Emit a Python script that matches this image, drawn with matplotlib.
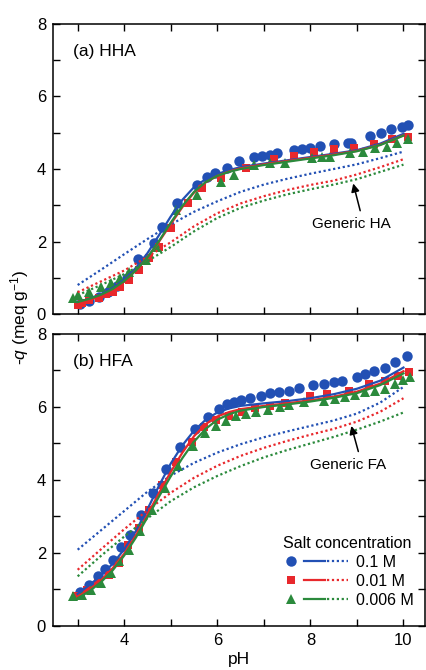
import matplotlib
matplotlib.use("Agg")
import matplotlib.pyplot as plt
from matplotlib.lines import Line2D
from matplotlib.legend_handler import HandlerTuple
from matplotlib.ticker import MultipleLocator, FixedLocator

plt.rcParams['font.family'] = ['Liberation Sans', 'DejaVu Sans']
plt.rcParams['mathtext.fontset'] = 'custom'
plt.rcParams['mathtext.rm'] = 'Liberation Sans'
plt.rcParams['mathtext.it'] = 'Liberation Sans:italic'

# ---------------- data ----------------
salt_labels = ["0.1 M", "0.01 M", "0.006 M"]
colors = ["#2250b4", "#e8282c", "#2b8a3c"]
markers = ["o", "s", "^"]

# Panel (a) HHA measured points
hha_ph_01 = [3.05, 3.25, 3.45, 3.65, 3.85, 4.05, 4.29, 4.64, 4.81, 5.14, 5.57, 5.77, 5.94, 6.2, 6.46, 6.79,
             6.96, 7.13, 7.29, 7.64, 7.82, 7.99, 8.2, 8.51, 8.8, 8.87, 9.29, 9.51, 9.73, 9.96, 10.1]
hha_q_01 = [0.28, 0.37, 0.48, 0.62, 0.78, 1.0, 1.52, 1.95, 2.41, 3.07, 3.56, 3.79, 3.9, 4.04, 4.22, 4.34,
            4.37, 4.4, 4.43, 4.52, 4.54, 4.59, 4.63, 4.68, 4.71, 4.73, 4.91, 4.98, 5.09, 5.17, 5.21]
hha_ph_001 = [3.0, 3.1, 3.25, 3.45, 3.6, 3.75, 3.9, 4.1, 4.32, 4.54, 4.75, 5.0, 5.36, 5.68, 6.07, 6.61,
              7.21, 7.64, 8.07, 8.5, 8.93, 9.36, 9.75, 10.09]
hha_q_001 = [0.26, 0.3, 0.4, 0.45, 0.55, 0.62, 0.75, 0.95, 1.22, 1.54, 1.86, 2.37, 3.05, 3.47, 3.74, 4.02,
             4.27, 4.36, 4.48, 4.54, 4.57, 4.69, 4.82, 4.89]
hha_ph_0006 = [2.9, 3.0, 3.25, 3.5, 3.71, 3.9, 4.1, 4.46, 4.71, 5.11, 5.57, 6.07, 6.36, 6.79, 7.14, 7.46,
               8.04, 8.25, 8.43, 8.86, 9.14, 9.39, 9.64, 9.86, 10.1]
hha_q_0006 = [0.44, 0.53, 0.62, 0.75, 0.85, 1.0, 1.17, 1.5, 1.86, 2.87, 3.28, 3.65, 3.83, 4.11, 4.16, 4.16,
              4.29, 4.34, 4.34, 4.43, 4.48, 4.57, 4.61, 4.71, 4.84]

# model fits (solid)
fit_ph = [3.0, 3.25, 3.5, 3.75, 4.0, 4.25, 4.5, 4.75, 5.0, 5.25, 5.5, 5.75, 6.0, 6.25, 6.5, 7.0, 7.5,
          8.0, 8.5, 9.0, 9.5, 10.0]
hha_fit_01 = [0.32, 0.42, 0.55, 0.72, 0.95, 1.27, 1.68, 2.18, 2.69, 3.15, 3.5, 3.72, 3.86, 3.97, 4.05,
              4.15, 4.24, 4.33, 4.42, 4.52, 4.7, 4.97]
hha_fit_001 = [0.28, 0.38, 0.5, 0.67, 0.9, 1.2, 1.56, 2.0, 2.48, 2.95, 3.35, 3.63, 3.81, 3.93, 4.02,
               4.13, 4.22, 4.31, 4.4, 4.5, 4.67, 4.93]
hha_fit_0006 = [0.33, 0.42, 0.53, 0.69, 0.91, 1.2, 1.56, 2.02, 2.52, 2.98, 3.37, 3.64, 3.81, 3.92, 4.0,
                4.11, 4.2, 4.29, 4.38, 4.49, 4.66, 4.92]

# generic predictions (dotted)
gen_ph = [3.0, 3.5, 4.0, 4.5, 5.0, 5.5, 6.0, 6.5, 7.0, 7.5, 8.0, 8.5, 9.0, 9.5, 10.0]
hha_gen_01 = [0.8, 1.22, 1.65, 2.07, 2.47, 2.82, 3.11, 3.37, 3.57, 3.73, 3.87, 4.0, 4.13, 4.3, 4.48]
hha_gen_001 = [0.6, 0.9, 1.2, 1.58, 1.98, 2.42, 2.78, 3.05, 3.25, 3.42, 3.56, 3.68, 3.85, 4.05, 4.27]
hha_gen_0006 = [0.52, 0.8, 1.1, 1.46, 1.85, 2.28, 2.65, 2.93, 3.13, 3.3, 3.44, 3.57, 3.72, 3.92, 4.12]

# Panel (b) HFA measured points
hfa_ph_01 = [3.04, 3.24, 3.43, 3.59, 3.75, 3.93, 4.13, 4.36, 4.62, 4.89, 5.19, 5.52, 5.81, 6.04, 6.21,
             6.36, 6.5, 6.71, 6.93, 7.14, 7.32, 7.54, 7.75, 8.06, 8.29, 8.5, 8.68, 9.0, 9.18, 9.36, 9.61,
             9.82, 10.07]
hfa_q_01 = [0.94, 1.13, 1.36, 1.56, 1.82, 2.16, 2.5, 3.05, 3.65, 4.29, 4.91, 5.39, 5.72, 5.94, 6.08,
            6.15, 6.19, 6.25, 6.31, 6.39, 6.4, 6.45, 6.52, 6.59, 6.64, 6.68, 6.72, 6.82, 6.91, 6.98, 7.07,
            7.23, 7.41]
hfa_ph_001 = [2.96, 3.19, 3.43, 3.68, 3.89, 4.09, 4.31, 4.54, 4.82, 5.12, 5.45, 5.71, 5.98, 6.25, 6.54,
              6.82, 7.14, 7.46, 8.0, 8.36, 8.82, 9.25, 9.61, 9.89, 10.12]
hfa_q_001 = [0.83, 0.99, 1.17, 1.4, 1.72, 2.23, 2.69, 3.19, 3.85, 4.48, 5.05, 5.44, 5.64, 5.76, 5.87,
             5.96, 6.04, 6.11, 6.31, 6.36, 6.45, 6.63, 6.72, 6.86, 6.97]
hfa_ph_0006 = [2.91, 3.09, 3.29, 3.5, 3.71, 3.89, 4.11, 4.34, 4.59, 4.87, 5.16, 5.48, 5.74, 5.98, 6.19,
               6.41, 6.62, 6.84, 7.09, 7.34, 7.54, 7.86, 8.29, 8.52, 8.75, 8.96, 9.18, 9.39, 9.61, 9.82,
               10.0, 10.14]
hfa_q_0006 = [0.81, 0.85, 0.99, 1.17, 1.45, 1.77, 2.09, 2.6, 3.19, 3.79, 4.39, 4.94, 5.3, 5.47, 5.62,
              5.74, 5.81, 5.87, 5.92, 5.99, 6.06, 6.15, 6.17, 6.22, 6.27, 6.34, 6.4, 6.45, 6.5, 6.63,
              6.75, 6.82]

hfa_fit_01 = [0.88, 1.12, 1.38, 1.7, 2.1, 2.6, 3.2, 3.85, 4.45, 4.95, 5.35, 5.65, 5.85, 5.96, 6.03,
              6.1, 6.16, 6.24, 6.35, 6.5, 6.72, 7.08]
hfa_fit_001 = [0.8, 1.0, 1.25, 1.58, 1.98, 2.48, 3.05, 3.65, 4.22, 4.75, 5.2, 5.53, 5.74, 5.86, 5.94,
               6.03, 6.1, 6.18, 6.28, 6.42, 6.64, 6.98]
hfa_fit_0006 = [0.76, 0.95, 1.2, 1.52, 1.93, 2.42, 2.98, 3.55, 4.1, 4.6, 5.05, 5.4, 5.65, 5.8, 5.9,
                6.0, 6.07, 6.15, 6.25, 6.38, 6.6, 6.92]

hfa_gen_01 = [2.09, 2.62, 3.15, 3.68, 4.12, 4.47, 4.75, 4.98, 5.17, 5.33, 5.48, 5.63, 5.82, 6.12, 6.55]
hfa_gen_001 = [1.54, 2.1, 2.65, 3.17, 3.65, 4.06, 4.39, 4.66, 4.88, 5.07, 5.24, 5.4, 5.6, 5.87, 6.24]
hfa_gen_0006 = [1.36, 1.92, 2.45, 2.95, 3.42, 3.8, 4.11, 4.38, 4.62, 4.82, 5.0, 5.18, 5.38, 5.6, 5.85]

panels = [
    dict(label="(a) HHA", gen_label="Generic HA",
         pts=[(hha_ph_01, hha_q_01), (hha_ph_001, hha_q_001), (hha_ph_0006, hha_q_0006)],
         fits=[hha_fit_01, hha_fit_001, hha_fit_0006],
         gens=[hha_gen_01, hha_gen_001, hha_gen_0006],
         text_xy=(8.88, 2.47), arrow_head=(8.92, 3.6), arrow_tail=(9.07, 2.85)),
    dict(label="(b) HFA", gen_label="Generic FA",
         pts=[(hfa_ph_01, hfa_q_01), (hfa_ph_001, hfa_q_001), (hfa_ph_0006, hfa_q_0006)],
         fits=[hfa_fit_01, hfa_fit_001, hfa_fit_0006],
         gens=[hfa_gen_01, hfa_gen_001, hfa_gen_0006],
         text_xy=(8.82, 4.42), arrow_head=(8.88, 5.48), arrow_tail=(9.03, 4.78)),
]

# ---------------- figure ----------------
fig = plt.figure(figsize=(4.26, 6.70), dpi=100)
ax_a = fig.add_axes([0.1244, 0.5313, 0.873, 0.4329])
ax_b = fig.add_axes([0.1244, 0.0657, 0.873, 0.4358])
axes = [ax_a, ax_b]

for ax, p in zip(axes, panels):
    for i in range(3):
        xs, ys = p["pts"][i]
        ax.plot(xs, ys, linestyle="none", marker=markers[i], color=colors[i],
                markersize=7.5 if i != 1 else 6.3, markeredgewidth=0, zorder=2)
    for i in range(3):
        ax.plot(fit_ph, p["fits"][i], color=colors[i], lw=1.6, zorder=3)
        ax.plot(gen_ph, p["gens"][i], color=colors[i], lw=1.6, linestyle=(0, (1, 1.2)), zorder=3)
    ax.set_xlim(2.47, 10.46)
    ax.set_ylim(0, 8)
    ax.xaxis.set_major_locator(FixedLocator([4, 6, 8, 10]))
    ax.xaxis.set_minor_locator(FixedLocator([3, 5, 7, 9]))
    ax.yaxis.set_major_locator(MultipleLocator(2))
    ax.yaxis.set_minor_locator(FixedLocator([1, 3, 5, 7]))
    ax.tick_params(which="both", direction="in", top=True, right=True, length=5, width=1.0,
                   labelsize=12, pad=5)
    for s in ax.spines.values():
        s.set_linewidth(1.1)
    ax.text(0.054, 0.905, p["label"], transform=ax.transAxes, fontsize=12.5, ha="left", va="center")
    ax.text(p["text_xy"][0], p["text_xy"][1], p["gen_label"], fontsize=11, ha="center", va="center")
    ax.annotate("", xy=p["arrow_head"], xytext=p["arrow_tail"],
                arrowprops=dict(arrowstyle="-|>", color="black", lw=1.1, shrinkA=0, shrinkB=0,
                                mutation_scale=12))

ax_a.tick_params(labelbottom=False)
ax_b.set_xlabel("pH", fontsize=12.5, labelpad=3)
fig.text(0.045, 0.527, r"-$\mathit{q}$ (meq g$^{-1}$)", rotation=90, fontsize=12.5,
         ha="center", va="center")

handles = []
for i in range(3):
    m = Line2D([], [], linestyle="none", marker=markers[i], color=colors[i],
               markersize=7.5 if i != 1 else 6.3, markeredgewidth=0)
    s = Line2D([], [], color=colors[i], lw=1.6)
    d = Line2D([], [], color=colors[i], lw=1.6, linestyle=(0, (1, 1.2)))
    handles.append((m, s, d))
ax_b.legend(handles, salt_labels, handler_map={tuple: HandlerTuple(ndivide=None, pad=0.1)},
            title="Salt concentration", title_fontsize=11.5, fontsize=11.5, frameon=False,
            loc="lower right", bbox_to_anchor=(1.0, 0.025), handlelength=4.2, handletextpad=0.5,
            labelspacing=0.25, borderpad=0.2)

fig.savefig("out.png", dpi=100)
